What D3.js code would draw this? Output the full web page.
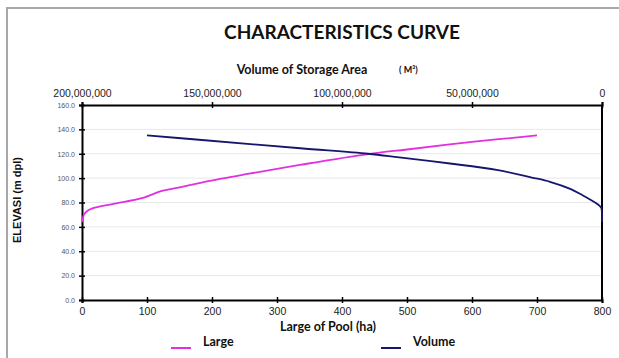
<!DOCTYPE html>
<html>
<head>
<meta charset="utf-8">
<script src="https://cdn.jsdelivr.net/npm/d3@7"></script>
<style>
  body { margin: 0; background: #fff; }
  svg { display: block; }
</style>
</head>
<body>
<div id="chart"></div>
<script>
// area of pool (ha) vs elevation (m dpl)
const largeArea = [0, 3, 8, 15, 50, 92, 123, 150, 189, 250, 335, 440, 500, 600, 700];
const largeElev = [64, 70, 73, 75, 79, 83.5, 89.5, 92.5, 97, 103, 110.8, 119.7, 123.5, 129.7, 135];

// storage volume (m3) vs elevation (m dpl)
const volValue = [175e6, 155e6, 116e6, 90e6, 78e6, 58.5e6, 40e6, 27e6, 20e6, 12e6, 7.5e6, 3e6, 1e6, 0.25e6, 0.05e6, 0];
const volElev  = [135, 131.5, 124.5, 120, 117, 112, 106.5, 100.5, 97, 91, 86, 80.5, 77.5, 75.5, 72, 64];

const elevTicks = [0, 20, 40, 60, 80, 100, 120, 140, 160];
const areaTicks = [0, 100, 200, 300, 400, 500, 600, 700, 800];
const volTicks = [0, 50e6, 100e6, 150e6, 200e6];

const width = 619, height = 358;
const plot = { left: 82, right: 602, top: 105, bottom: 300 };

const svg = d3.select("#chart").append("svg")
    .attr("width", width).attr("height", height);

// outer frame
svg.append("path")
    .attr("d", `M7,${height} V8 H${width}`)
    .attr("fill", "none").attr("stroke", "#a8a8a8").attr("stroke-width", 2);

const x = d3.scaleLinear().domain([0, 800]).range([plot.left, plot.right]);
const xv = d3.scaleLinear().domain([200e6, 0]).range([plot.left, plot.right]);
const y = d3.scaleLinear().domain([0, 160]).range([plot.bottom, plot.top]);

// grid
svg.append("g").selectAll("line")
    .data(elevTicks.filter(d => d > 0 && d < 160)).enter().append("line")
    .attr("x1", plot.left).attr("x2", plot.right)
    .attr("y1", d => y(d)).attr("y2", d => y(d))
    .attr("stroke", "#e8e8e8").attr("stroke-width", 1);

// axes
const axisStyle = (g, fs, col) => {
    g.select(".domain").attr("stroke", "#000").attr("stroke-width", 2);
    g.selectAll(".tick line").attr("stroke", "#000").attr("stroke-width", 1.5);
    g.selectAll(".tick text").attr("font-family", "Liberation Sans, Arial, sans-serif")
        .attr("font-size", fs).attr("fill", col);
};

const gBottom = svg.append("g").attr("transform", `translate(0,${plot.bottom})`)
    .call(d3.axisBottom(x).tickValues(areaTicks).tickSizeOuter(0).tickSize(3).tickPadding(5));
gBottom.selectAll(".tick line").attr("y1", -3).attr("y2", 3);
axisStyle(gBottom, 10.5, "#222");

const gTop = svg.append("g").attr("transform", `translate(0,${plot.top})`)
    .call(d3.axisTop(xv).tickValues(volTicks).tickFormat(d3.format(",")).tickSizeOuter(0).tickSize(3).tickPadding(5));
gTop.selectAll(".tick line").attr("y1", -3).attr("y2", 3);
axisStyle(gTop, 10.5, "#222");

const gLeft = svg.append("g").attr("transform", `translate(${plot.left},0)`)
    .call(d3.axisLeft(y).tickValues(elevTicks).tickFormat(d3.format(".1f")).tickSizeOuter(0).tickSize(3).tickPadding(4));
gLeft.selectAll(".tick line").attr("x1", -3).attr("x2", 3);
axisStyle(gLeft, 7, "#555");

svg.append("line")
    .attr("x1", plot.right).attr("x2", plot.right)
    .attr("y1", plot.top).attr("y2", plot.bottom)
    .attr("stroke", "#000").attr("stroke-width", 2);

// curves (drawn over the axes so the vertical end of Volume shows)
const line = d3.line().curve(d3.curveCatmullRom.alpha(0.5));
svg.append("path")
    .attr("d", line(largeArea.map((a, i) => [x(a), y(largeElev[i])])))
    .attr("fill", "none").attr("stroke", "#e22fe0").attr("stroke-width", 1.8);
svg.append("path")
    .attr("d", line(volValue.map((v, i) => [xv(v), y(volElev[i])])))
    .attr("fill", "none").attr("stroke", "#16166e").attr("stroke-width", 1.8);

// titles
const cal = "Lato, 'Open Sans', sans-serif";
svg.append("text").attr("x", 342).attr("y", 39).attr("text-anchor", "middle")
    .attr("font-family", cal).attr("font-size", 19).attr("font-weight", 700)
    .attr("fill", "#111").text("CHARACTERISTICS CURVE");

svg.append("text").attr("x", 302).attr("y", 74).attr("text-anchor", "middle")
    .attr("font-family", cal).attr("font-size", 12.5).attr("font-weight", 700)
    .attr("fill", "#111").text("Volume of Storage Area");
svg.append("text").attr("x", 399).attr("y", 73)
    .attr("font-family", cal).attr("font-size", 9).attr("font-weight", 700)
    .attr("fill", "#111").text("( M³)");

svg.append("text").attr("x", 328).attr("y", 331).attr("text-anchor", "middle")
    .attr("font-family", cal).attr("font-size", 12.5).attr("font-weight", 700)
    .attr("fill", "#111").text("Large of Pool (ha)");

svg.append("text")
    .attr("transform", "translate(21,200) rotate(-90)").attr("text-anchor", "middle")
    .attr("font-family", "Liberation Sans, Arial, sans-serif").attr("font-size", 11).attr("font-weight", 700)
    .attr("fill", "#111").text("ELEVASI (m dpl)");

// legend
const legend = [
    { name: "Large", color: "#e22fe0", x: 171 },
    { name: "Volume", color: "#16166e", x: 381 }
];
const lg = svg.append("g").selectAll("g").data(legend).enter().append("g");
lg.append("line")
    .attr("x1", d => d.x).attr("x2", d => d.x + 20)
    .attr("y1", 348).attr("y2", 348)
    .attr("stroke", d => d.color).attr("stroke-width", 2);
lg.append("text")
    .attr("x", d => d.x + 32).attr("y", 346)
    .attr("font-family", cal).attr("font-size", 12.5).attr("font-weight", 700)
    .attr("fill", "#111").text(d => d.name);
</script>
</body>
</html>
